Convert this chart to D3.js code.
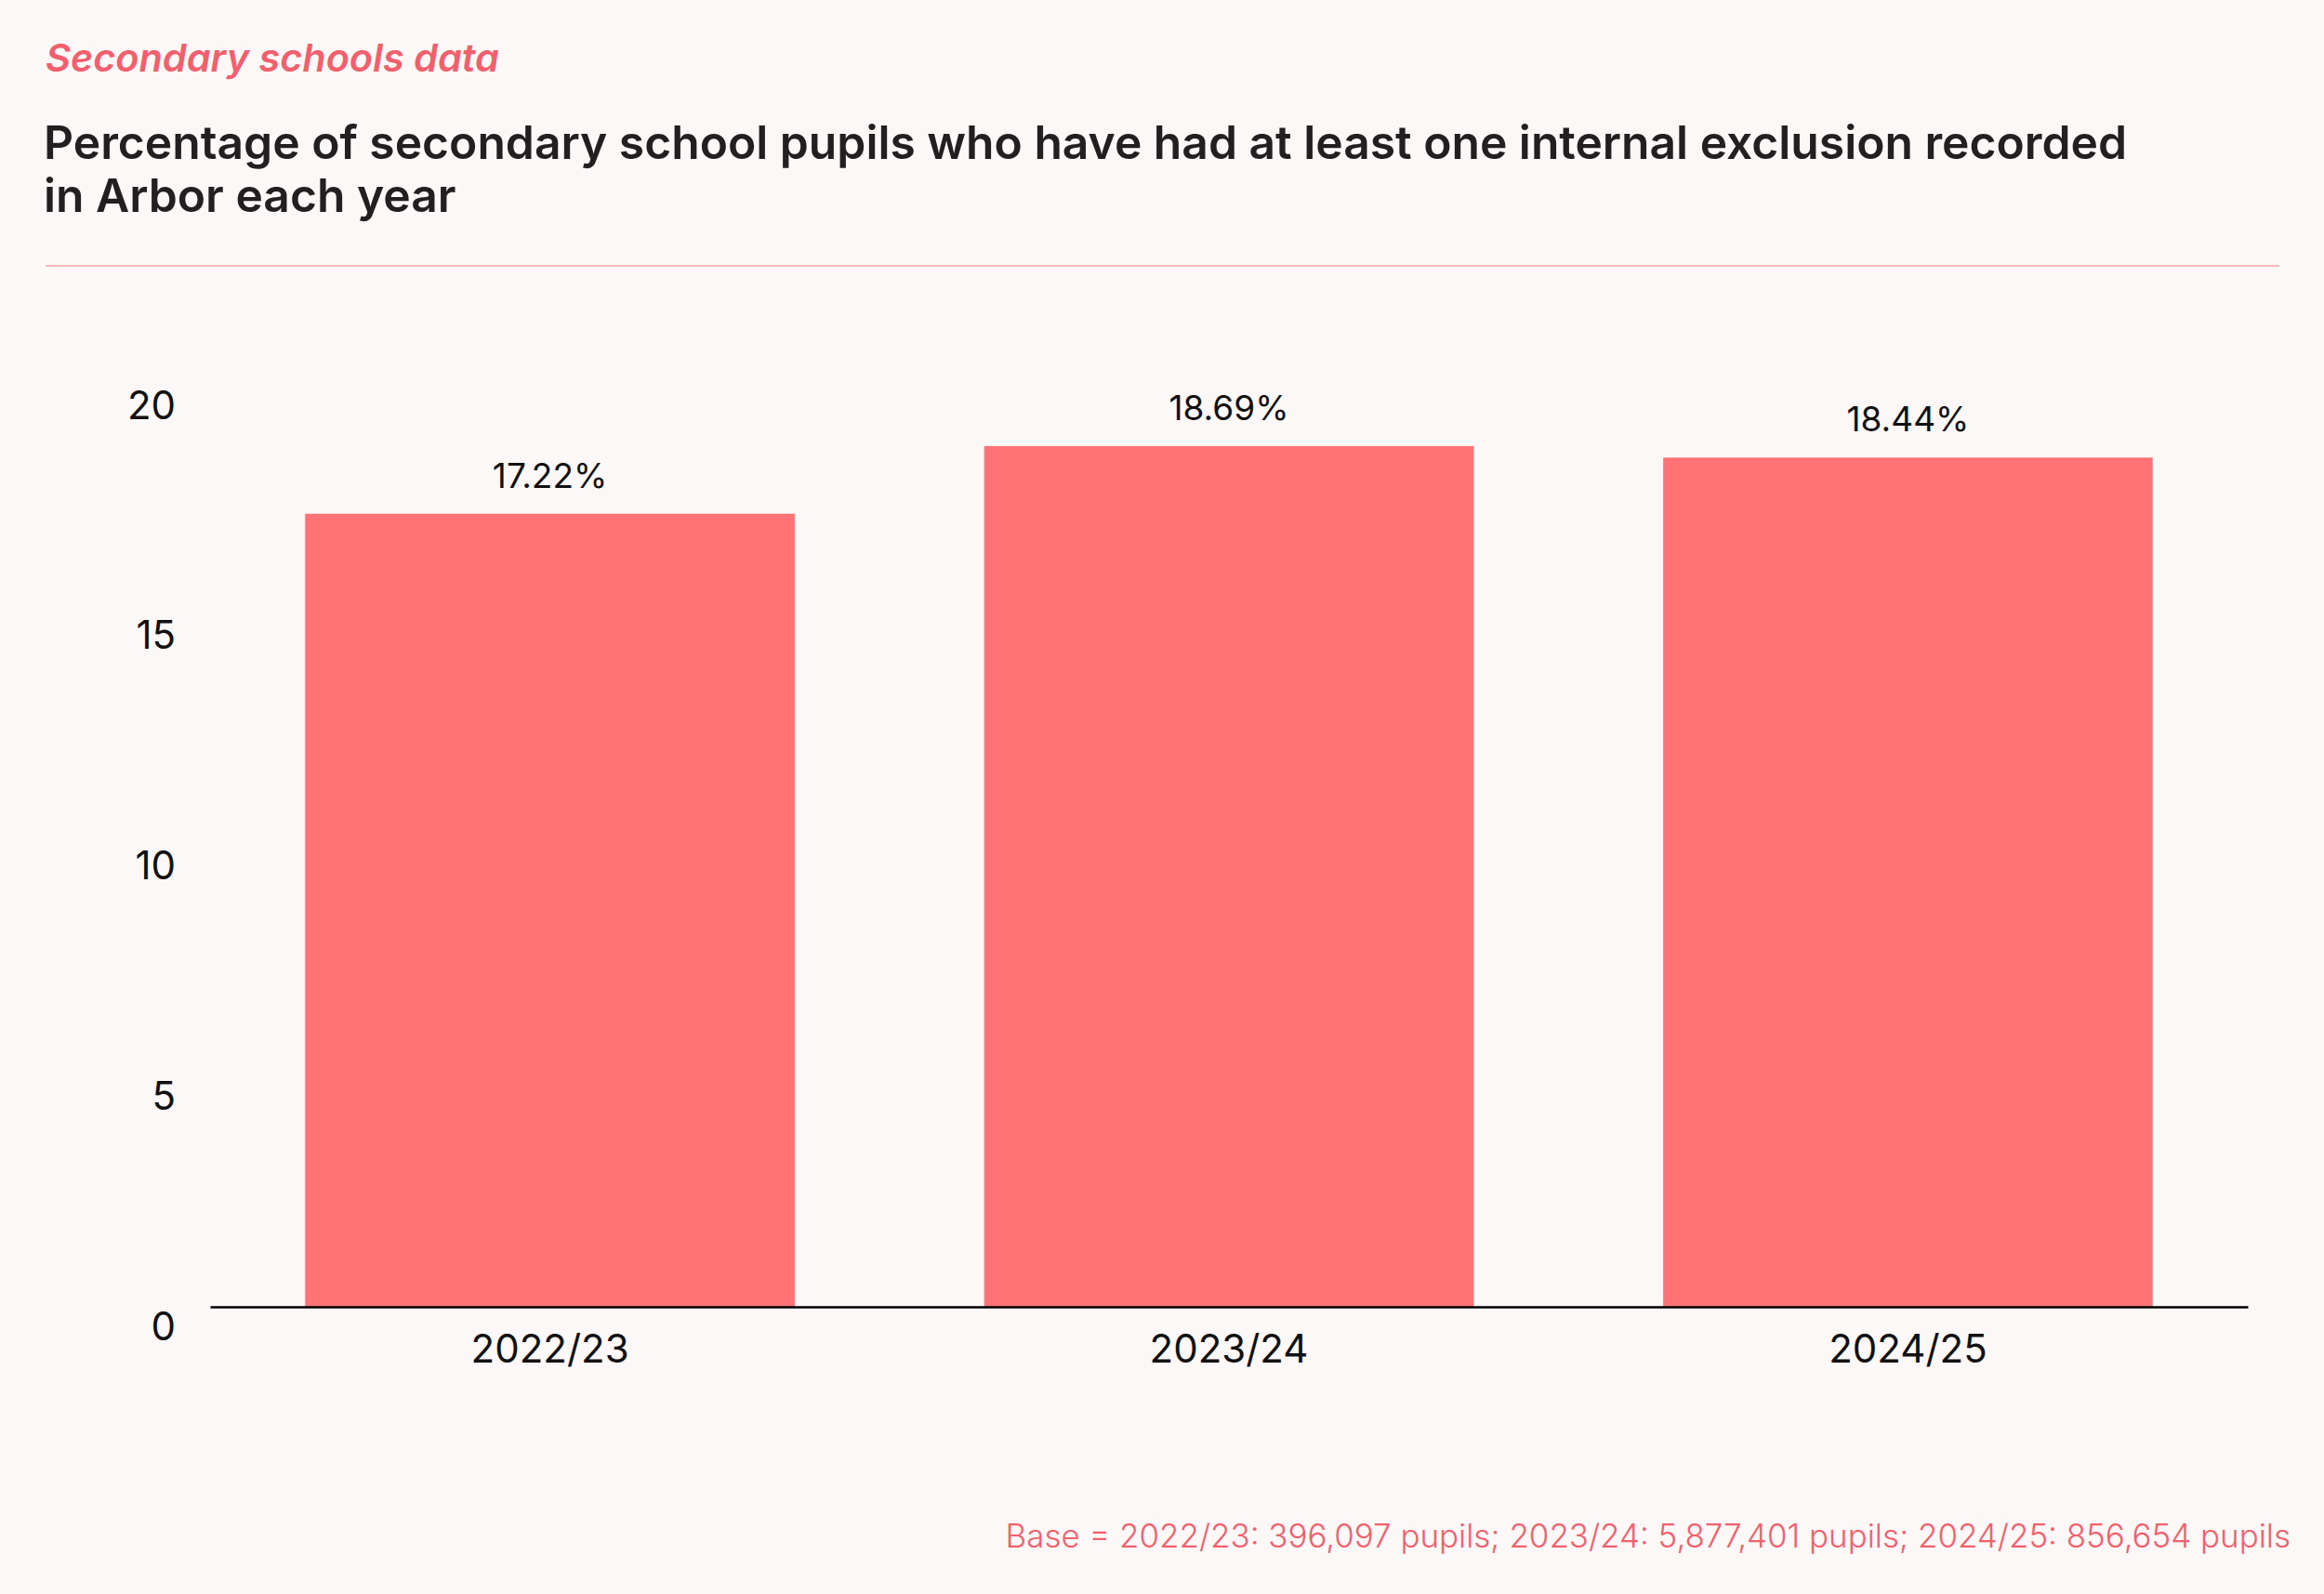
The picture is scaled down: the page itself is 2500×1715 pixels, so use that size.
<!DOCTYPE html>
<html>
<head>
<meta charset="utf-8">
<script src="https://cdn.jsdelivr.net/npm/d3@7"></script>
<style>
  body { margin: 0; background: #fdf8f8; }
  svg { display: block; }
  text { font-family: Inter, "Open Sans", sans-serif; }
</style>
</head>
<body>
<div class="canvas"></div>
<script>
// data
const years = ['2022/23', '2023/24', '2024/25']
const values = [17.22, 18.69, 18.44]
const yTicks = [0, 5, 10, 15, 20]
const kicker = 'Secondary schools data'
const titleLines = [
  'Percentage of secondary school pupils who have had at least one internal exclusion recorded',
  'in Arbor each year'
]
const footnote = 'Base = 2022/23: 396,097 pupils; 2023/24: 5,877,401 pupils; 2024/25: 856,654 pupils'

const svgWidth = 2500, svgHeight = 1715
const margin = { top: 415, right: 82, bottom: 309, left: 226 }
const graphWidth = svgWidth - margin.left - margin.right
const graphHeight = svgHeight - margin.top - margin.bottom

const pink = '#f25f6d'
const barColour = '#ff7377'

const svg = d3.select('.canvas')
  .append('svg')
  .attr('width', svgWidth)
  .attr('height', svgHeight)

svg.append('rect')
  .attr('width', svgWidth)
  .attr('height', svgHeight)
  .attr('fill', '#fdf8f8')

// shrink or grow a text's font so it spans the width
const fitWidth = (sel, target) => {
  const size = parseFloat(sel.attr('font-size'))
  const len = sel.node().getComputedTextLength()
  sel.attr('font-size', size * target / len)
}

// header
svg.append('text')
  .attr('x', 49)
  .attr('y', 77)
  .attr('font-size', 38)
  .attr('font-weight', 600)
  .attr('font-style', 'italic')
  .attr('fill', pink)
  .text(kicker)
  .call(fitWidth, 488)

titleLines.forEach((line, i) => {
  const t = svg.append('text')
    .attr('x', 47)
    .attr('y', 171 + i * 57)
    .attr('font-size', 48)
    .attr('font-weight', 600)
    .attr('fill', '#231f20')
    .text(line)
  if (i === 0) t.call(fitWidth, 2242)
})
// second line uses the same size as the first
svg.selectAll('text').filter((d, i) => i === 2)
  .attr('font-size', svg.selectAll('text').filter((d, i) => i === 1).attr('font-size'))

svg.append('line')
  .attr('x1', 49)
  .attr('x2', 2452)
  .attr('y1', 286)
  .attr('y2', 286)
  .attr('stroke', '#ffb9b9')
  .attr('stroke-width', 2)

const graph = svg.append('g')
  .attr('transform', `translate(${margin.left}, ${margin.top})`)

// scales
const x = d3.scaleBand()
  .domain(years)
  .range([0, graphWidth])
  .paddingInner(0.279)
  .paddingOuter(0.14)

const y = d3.scaleLinear()
  .domain([0, 20])
  .range([graphHeight, 0])

// bars
graph.selectAll('rect.bar')
  .data(values)
  .enter()
  .append('rect')
  .attr('class', 'bar')
  .attr('x', (d, i) => x(years[i]))
  .attr('width', x.bandwidth())
  .attr('y', d => y(d))
  .attr('height', d => graphHeight - y(d))
  .attr('fill', barColour)

// value labels
graph.selectAll('text.value')
  .data(values)
  .enter()
  .append('text')
  .attr('class', 'value')
  .attr('x', (d, i) => x(years[i]) + x.bandwidth() / 2)
  .attr('y', d => y(d) - 28)
  .attr('text-anchor', 'middle')
  .attr('font-size', 37)
  .attr('fill', '#111')
  .text(d => d.toFixed(2) + '%')

// axes
const xAxis = d3.axisBottom(x)
  .tickSize(0)
  .tickSizeOuter(0)

const yAxis = d3.axisLeft(y)
  .tickValues(yTicks)
  .tickSize(0)
  .tickPadding(37)

const xAxisGroup = graph.append('g')
  .attr('transform', `translate(0, ${graphHeight})`)
  .call(xAxis)

xAxisGroup.select('.domain')
  .attr('stroke', '#000')
  .attr('stroke-width', 2.5)

xAxisGroup.selectAll('text')
  .attr('y', 60)
  .attr('dy', 0)
  .attr('font-size', 42)
  .attr('font-family', 'Inter, "Open Sans", sans-serif')
  .attr('fill', '#111')

const yAxisGroup = graph.append('g')
  .call(yAxis)

yAxisGroup.select('.domain').remove()

yAxisGroup.selectAll('text')
  .attr('dy', 35)
  .attr('font-size', 42)
  .attr('font-family', 'Inter, "Open Sans", sans-serif')
  .attr('fill', '#111')

// footnote
svg.append('text')
  .attr('x', 2464)
  .attr('y', 1665)
  .attr('text-anchor', 'end')
  .attr('font-size', 33)
  .attr('font-weight', 300)
  .attr('fill', pink)
  .text(footnote)
  .call(fitWidth, 1383)
</script>
</body>
</html>
